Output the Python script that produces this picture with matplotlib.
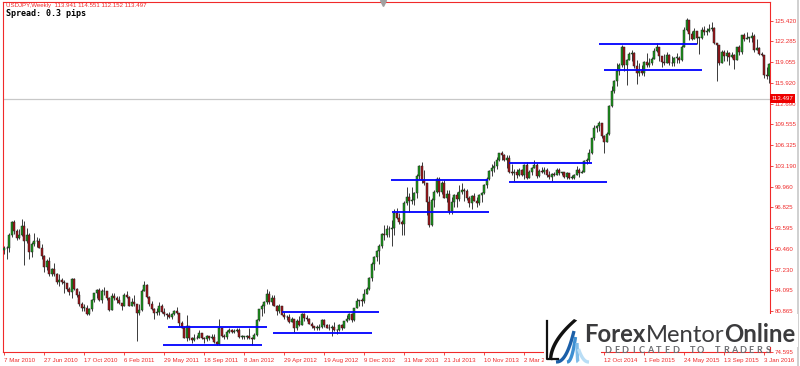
import numpy as np
import matplotlib
matplotlib.use("Agg")
import matplotlib.pyplot as plt
from matplotlib.patches import Rectangle, Polygon

# USDJPY weekly candles, weeks starting 7 Mar 2010
first_open = 90.2

close_2010 = [90.5, 90.5, 92.6, 94.6, 93.2, 92.1, 92.6, 94.0, 91.6, 92.5, 90.0, 91.2, 91.7, 91.6, 90.6,
              89.3, 87.7, 88.6, 86.6, 87.4, 86.5, 85.4, 85.6, 85.4, 85.2, 84.3, 83.8, 85.8, 84.3, 83.3,
              82.0, 81.4, 81.4, 80.4, 81.2, 82.5, 83.6, 84.1, 82.5, 84.0, 83.9, 82.9, 81.1]
high_2010 = [90.9, 90.9, 92.8, 94.7, 94.8, 93.5, 93.5, 94.99, 94.7, 93.6, 92.9, 91.5, 92.9, 92.3, 92.1,
             91.1, 89.5, 88.9, 89.2, 87.5, 88.2, 86.7, 86.5, 86.0, 85.7, 85.0, 84.5, 85.9, 85.9, 84.4,
             83.9, 82.3, 81.9, 81.8, 81.4, 82.7, 83.7, 84.2, 84.4, 84.2, 84.5, 84.0, 83.0]
low_2010 = [89.6, 88.9, 89.9, 92.3, 92.7, 91.8, 91.9, 92.4, 88.0, 91.3, 88.9, 89.1, 90.8, 90.7, 90.5,
            88.9, 86.9, 87.2, 86.3, 86.3, 86.2, 85.0, 84.7, 85.0, 83.6, 83.9, 83.3, 82.9, 84.1, 83.1,
            81.6, 80.9, 80.9, 80.2, 80.2, 80.9, 82.3, 82.8, 82.4, 82.1, 83.3, 82.5, 80.9]

close_2011 = [83.2, 82.9, 82.5, 82.1, 81.7, 83.4, 83.1, 81.7, 82.3, 81.9, 80.6, 81.1, 84.0, 84.8, 83.1,
              81.9, 81.2, 80.6, 80.7, 81.7, 80.7, 80.4, 80.2, 80.0, 80.4, 80.8, 80.6, 79.1, 78.3, 76.8,
              78.5, 76.7, 76.4, 76.7, 76.8, 77.5, 76.8, 76.6, 77.0, 76.7, 76.9, 76.1, 75.8, 78.2, 77.1,
              76.9, 77.7, 77.9, 77.6, 77.8, 78.0, 76.9]
high_2011 = [83.7, 83.6, 83.2, 83.2, 82.0, 83.7, 84.0, 83.2, 82.9, 83.3, 82.0, 81.9, 84.2, 85.5, 85.0,
             83.2, 82.4, 81.4, 81.4, 82.2, 82.0, 81.3, 80.5, 80.7, 80.6, 81.1, 81.5, 80.6, 79.3, 78.6,
             80.2, 78.0, 76.9, 77.4, 77.2, 77.9, 77.5, 76.9, 77.2, 77.1, 77.3, 77.4, 76.2, 79.6, 78.2,
             77.4, 77.9, 78.3, 78.1, 78.1, 78.2, 78.2]
low_2011 = [81.1, 82.6, 82.1, 82.0, 81.0, 81.6, 82.9, 81.6, 81.7, 81.6, 76.3, 80.2, 80.9, 84.0, 82.9,
            81.6, 81.1, 79.6, 80.3, 80.2, 80.6, 80.1, 79.7, 79.8, 79.7, 80.3, 80.4, 78.5, 78.2, 76.7,
            76.3, 76.4, 75.9, 76.2, 76.5, 76.7, 76.5, 75.9, 76.2, 76.4, 76.6, 75.9, 75.6, 75.6, 76.9,
            76.6, 76.6, 77.5, 77.5, 77.5, 77.6, 76.8]

close_2012 = [76.9, 76.9, 77.0, 76.7, 76.6, 77.2, 79.5, 81.2, 81.7, 82.3, 83.5, 82.3, 82.9, 81.7, 80.9,
              81.6, 80.3, 79.9, 79.9, 79.2, 79.6, 78.3, 79.4, 78.7, 80.4, 79.8, 79.6, 78.9, 78.5, 78.3,
              78.3, 78.4, 79.5, 78.7, 78.3, 78.2, 78.4, 77.9, 77.9, 78.7, 78.3, 79.3, 79.7, 80.4, 79.5,
              81.3, 82.4, 82.5, 82.4, 83.5, 84.2, 85.9, 88.1]
high_2012 = [77.2, 77.0, 77.2, 78.3, 76.9, 77.5, 79.6, 81.2, 81.9, 82.4, 84.2, 84.0, 83.3, 83.3, 81.8,
             82.0, 81.7, 80.7, 80.2, 80.4, 80.0, 79.6, 79.6, 80.1, 80.6, 80.6, 80.2, 79.8, 79.2, 78.5,
             78.7, 78.8, 79.6, 79.6, 78.8, 78.9, 78.7, 79.2, 78.1, 78.8, 78.8, 79.4, 80.2, 80.6, 80.6,
             81.4, 82.8, 82.6, 82.8, 84.3, 84.6, 86.1, 88.4]
low_2012 = [76.6, 76.6, 76.5, 76.6, 75.6, 76.5, 77.0, 79.4, 80.1, 80.6, 81.9, 82.0, 81.8, 81.6, 80.3,
            80.5, 80.2, 79.6, 79.5, 79.0, 79.2, 77.7, 77.9, 78.5, 78.8, 79.3, 79.3, 78.8, 78.2, 77.9,
            77.9, 78.0, 78.2, 78.4, 78.2, 78.0, 77.1, 77.8, 77.4, 77.8, 78.0, 78.2, 79.2, 79.5, 79.2,
            79.4, 81.3, 81.7, 81.7, 82.1, 83.6, 84.1, 85.5]

close_2013 = [89.2, 90.1, 90.9, 92.7, 92.6, 93.5, 93.4, 93.6, 96.0, 95.2, 94.5, 94.2, 97.5, 98.4, 97.7,
              98.0, 99.0, 101.6, 103.2, 101.0, 100.5, 97.6, 94.1, 98.0, 99.1, 101.2, 99.2, 100.6, 98.3,
              98.9, 96.2, 97.6, 98.7, 98.1, 99.1, 99.4, 99.3, 98.3, 97.5, 98.6, 97.7, 97.4, 98.7, 99.0,
              100.2, 101.2, 102.4, 102.9, 103.2, 104.1, 105.1, 104.9]
high_2013 = [89.3, 90.2, 91.1, 92.9, 94.1, 94.1, 94.0, 94.8, 96.6, 96.7, 96.0, 94.9, 97.8, 99.9, 99.0,
             99.9, 99.2, 101.9, 103.3, 103.7, 102.5, 100.5, 98.5, 98.3, 99.4, 101.5, 101.5, 100.9, 101.0,
             99.5, 99.5, 98.4, 98.9, 99.2, 100.2, 100.6, 99.7, 99.6, 98.5, 98.7, 99.0, 98.4, 98.9, 99.1,
             100.4, 101.4, 102.6, 103.4, 103.9, 104.6, 105.2, 105.4]
low_2013 = [87.1, 88.5, 88.1, 90.5, 91.8, 92.2, 92.3, 90.8, 92.6, 95.0, 94.3, 92.6, 92.6, 97.1, 96.1,
            97.3, 97.1, 98.2, 101.2, 100.6, 100.2, 95.6, 93.8, 94.0, 96.8, 99.0, 98.5, 98.8, 98.2,
            97.6, 95.8, 95.8, 96.8, 96.8, 97.8, 98.9, 97.8, 98.0, 96.9, 96.6, 97.7, 96.9, 97.2, 97.6,
            98.8, 99.7, 101.0, 101.6, 102.3, 102.7, 103.9, 104.1]

close_2014 = [104.1, 104.3, 102.3, 102.0, 102.3, 101.8, 102.5, 101.8, 103.3, 101.3, 102.2, 102.8, 103.3,
              101.6, 102.4, 102.2, 102.6, 101.8, 101.4, 101.9, 101.8, 102.5, 102.0, 102.2, 101.4, 102.1,
              101.3, 101.3, 101.8, 102.6, 102.0, 102.3, 103.9, 104.1, 105.1, 107.4, 109.0, 109.3, 109.8,
              107.7, 106.9, 108.1, 112.3, 114.6, 116.2, 117.7, 118.6, 121.4, 118.7, 119.5, 120.4, 120.5]
high_2014 = [105.0, 104.9, 104.9, 103.4, 102.7, 102.7, 102.8, 102.7, 103.5, 103.8, 102.6, 103.0, 104.1,
             103.6, 102.7, 103.0, 103.0, 102.8, 102.4, 102.0, 102.2, 102.8, 102.8, 102.3, 102.1, 102.3,
             102.1, 101.8, 101.9, 103.2, 102.8, 102.5, 104.1, 104.3, 105.7, 107.4, 109.5, 109.5, 110.1,
             109.0, 107.9, 108.4, 112.5, 115.5, 116.4, 118.9, 118.9, 121.8, 121.4, 119.6, 120.7, 121.0]
low_2014 = [103.9, 102.9, 102.0, 101.8, 100.8, 101.3, 101.6, 101.6, 101.2, 101.2, 101.3, 101.7, 102.8,
            101.3, 101.4, 102.0, 101.9, 101.4, 101.1, 100.8, 101.6, 101.8, 101.8, 101.7, 101.3, 101.1,
            101.1, 101.1, 101.1, 101.8, 101.5, 102.0, 102.3, 103.5, 103.8, 105.0, 107.1, 108.3, 108.6,
            107.4, 105.2, 106.8, 107.9, 112.2, 114.4, 115.5, 117.2, 118.3, 117.8, 115.6, 119.5, 119.2]

close_2015 = [118.5, 117.5, 117.7, 117.5, 119.1, 118.7, 119.0, 119.6, 120.8, 121.4, 120.0, 119.1, 119.0,
              120.2, 118.9, 118.9, 119.8, 119.8, 119.4, 121.5, 124.1, 125.6, 123.4, 122.7, 123.9, 122.8,
              122.8, 124.0, 123.8, 123.9, 124.2, 124.3, 122.0, 121.7, 119.0, 120.6, 120.0, 120.5, 119.9,
              120.2, 119.4, 121.4, 120.6, 123.2, 122.6, 122.8, 122.8, 123.1, 120.9, 121.2, 120.3, 120.2]
high_2015 = [120.7, 119.4, 118.9, 118.7, 119.2, 120.5, 119.7, 119.9, 121.3, 122.0, 121.5, 120.1, 120.4,
             120.6, 120.3, 120.1, 119.9, 120.5, 120.0, 121.8, 124.5, 125.9, 125.0, 123.9, 124.4, 123.7,
             123.0, 124.5, 124.6, 124.3, 125.0, 125.3, 124.5, 122.0, 121.7, 121.0, 121.0, 120.9, 120.6,
             120.7, 120.3, 121.5, 121.7, 123.3, 123.6, 123.8, 123.0, 123.7, 123.5, 122.6, 121.4, 120.7]
low_2015 = [118.2, 115.8, 116.9, 117.1, 116.9, 118.3, 118.3, 118.6, 119.6, 120.6, 119.3, 118.3, 118.6,
            119.5, 118.7, 118.5, 118.5, 118.9, 118.9, 119.2, 121.4, 123.9, 122.5, 122.5, 122.8, 121.9,
            120.4, 122.6, 123.2, 123.3, 123.7, 123.9, 121.9, 116.2, 118.6, 118.9, 119.3, 119.2, 118.7,
            119.8, 118.1, 119.4, 120.2, 120.3, 122.3, 122.7, 122.2, 122.2, 120.7, 120.9, 120.2, 120.1]

close_2016 = [117.2, 116.9, 118.8]
high_2016 = [120.2, 118.4, 118.9]
low_2016 = [116.7, 116.5, 115.97]

# support / resistance levels drawn on the chart: price, first week, last week
level_price = [78.37, 75.65, 80.77, 77.54, 101.0, 96.08, 103.66, 100.74, 121.89, 117.9]
level_start = [65.6, 63.6, 111.2, 107.6, 154.8, 155.2, 202.0, 202.0, 238.0, 240.0]
level_end = [105.2, 103.2, 150.0, 147.2, 193.6, 194.0, 235.2, 241.2, 277.2, 279.2]

price_ticks = [125.420, 122.285, 119.055, 115.920, 112.690, 109.555, 106.325, 103.190, 99.960,
               96.825, 93.595, 90.460, 87.230, 84.095, 80.865, 77.730, 74.595]
hidden_ticks = [77.730]   # label sits under the logo in the screenshot
date_labels = ["7 Mar 2010", "27 Jun 2010", "17 Oct 2010", "6 Feb 2011", "29 May 2011", "18 Sep 2011",
               "8 Jan 2012", "29 Apr 2012", "19 Aug 2012", "9 Dec 2012", "31 Mar 2013", "21 Jul 2013",
               "10 Nov 2013", "2 Mar 2014", "22 Jun 2014", "12 Oct 2014", "1 Feb 2015", "24 May 2015",
               "13 Sep 2015", "3 Jan 2016"]
label_weeks = list(range(0, 16 * len(date_labels), 16))

last_price = 113.497
header = "USDJPY,Weekly  113.941 114.551 112.152 113.497"

closes = close_2010 + close_2011 + close_2012 + close_2013 + close_2014 + close_2015 + close_2016
highs = high_2010 + high_2011 + high_2012 + high_2013 + high_2014 + high_2015 + high_2016
lows = low_2010 + low_2011 + low_2012 + low_2013 + low_2014 + low_2015 + low_2016
opens = [first_open] + closes[:-1]

W, H = 800, 366
RED = '#f02a2a'
SMALL = 'Liberation Sans'


def fx(px):
    return np.asarray(px) / W


def fy(py):
    return 1 - np.asarray(py) / H


fig = plt.figure(figsize=(8, 3.66), dpi=100)
fig.patch.set_facecolor('white')
ax = fig.add_axes([fx(3), fy(352), fx(770) - fx(3), fy(2) - fy(352)])
ax.set_xlim(-0.4, 306.4)
ax.set_ylim(74.575, 128.34)

o = np.array(opens)
c = np.array(closes)
h = np.array(highs)
l = np.array(lows)
x = np.arange(len(c))
top = np.maximum(o, c)
bot = np.minimum(o, c)
body = np.maximum(top - bot, 0.1)
up = c >= o

ax.axhline(last_price, color='#c8c8c8', lw=0.9, zorder=1)
ax.vlines(x, np.minimum(l, bot), np.maximum(h, top), color='#3a3a3a', lw=0.7, zorder=2)
ax.bar(x[up], body[up], bottom=bot[up], width=0.8, color='#1c9c1c', edgecolor='#202020', lw=0.35, zorder=3)
ax.bar(x[~up], body[~up], bottom=bot[~up], width=0.8, color='#a3151a', edgecolor='#202020', lw=0.35, zorder=3)

ax.hlines(level_price, level_start, level_end, color='#0000ff', lw=1.3, zorder=4)

# axes in MT4 style
for s in ax.spines.values():
    s.set_color(RED)
    s.set_linewidth(0.8)
ax.yaxis.tick_right()
ax.set_yticks(price_ticks)
ax.set_yticklabels(["" if p in hidden_ticks else f"{p:.3f}" for p in price_ticks], family=SMALL)
ax.tick_params(axis='y', colors=RED, labelsize=4.4, length=2, width=0.6, pad=1.5)
ax.set_xticks(label_weeks)
ax.set_xticklabels(date_labels, ha='left', family=SMALL)
ax.tick_params(axis='x', colors=RED, labelsize=4.4, length=2.5, width=0.6, pad=2)

ax.text(1.002, last_price, f"{last_price:.3f}", transform=ax.get_yaxis_transform(), color='white',
        fontsize=4.4, family=SMALL, va='center', ha='left', zorder=6,
        bbox=dict(boxstyle='square,pad=0.3', fc='#ee0000', ec='none'))

fig.text(fx(6), fy(6), header, color=RED, fontsize=4.4, family=SMALL, va='center', ha='left')
fig.text(fx(6), fy(14), "Spread: 0.3 pips", color='black', fontsize=6, fontweight='bold',
         family='DejaVu Sans Mono', va='center', ha='left')
fig.lines.append(plt.Line2D([fx(383)], [fy(3)], marker='v', ms=4, color='#a0a0a0',
                            transform=fig.transFigure))
fig.lines.append(plt.Line2D([fx(798), fx(798)], [0, 1], color='#c8c8c8', lw=1.2,
                            transform=fig.transFigure))

# ForexMentorOnline logo: white backing, icon, wordmark
fig.patches.append(Rectangle((fx(546), fy(347)), fx(798) - fx(546), fy(314) - fy(347),
                             transform=fig.transFigure, fc='white', ec='none', zorder=10))
fig.patches.append(Rectangle((fx(544), fy(366)), fx(601) - fx(544), fy(314) - fy(366),
                             transform=fig.transFigure, fc='white', ec='none', zorder=10))
t = np.linspace(0, 1, 40)
for k, col in enumerate(['#1b5fa8', '#3d8fd2', '#7fbde9', '#b9ddf5']):
    x0, y0 = 556 + 11 * k, 362
    x1, y1 = 574 + 1.5 * k, 331 + 6 * k
    bx = x0 + (x1 - x0) * t ** 0.6
    by = y0 + (y1 - y0) * t ** 1.4
    fig.lines.append(plt.Line2D(fx(bx), fy(by), color=col, lw=2.4,
                                transform=fig.transFigure, zorder=11, solid_capstyle='butt'))
sx = 549 + 25 * t ** 1.4
sy = 359 - 40 * t ** 0.75
fig.patches.append(Polygon(np.column_stack([fx(np.r_[sx, sx[::-1] + 3.2]),
                                            fy(np.r_[sy, sy[::-1] + 1.5])]),
                           closed=True, transform=fig.transFigure, fc='#111111', ec='none', zorder=12))
fig.lines.append(plt.Line2D(fx([547, 547, 558]), fy([321, 359, 359]), color='#111111',
                            lw=1.6, transform=fig.transFigure, zorder=12))

renderer = fig.canvas.get_renderer()
xpos = 584
for word, weight in [("Forex", 'bold'), ("Mentor", 'normal'), ("Online", 'bold')]:
    wt = fig.text(fx(xpos), fy(342), word, color='#3b3b3d', fontsize=17.2, fontweight=weight,
                  family='Lato', ha='left', va='baseline', zorder=13)
    xpos += wt.get_window_extent(renderer).width
tagline = "DEDICATED TO TRADERS"
for ch, px in zip(tagline, np.linspace(608, 768, len(tagline))):
    if ch != " ":
        fig.text(fx(px), fy(350.5), ch, color='#6b6c70', fontsize=6.6, fontweight='bold',
                 family='Lato', ha='center', va='center', zorder=13)

fig.savefig('out.png', dpi=100)
